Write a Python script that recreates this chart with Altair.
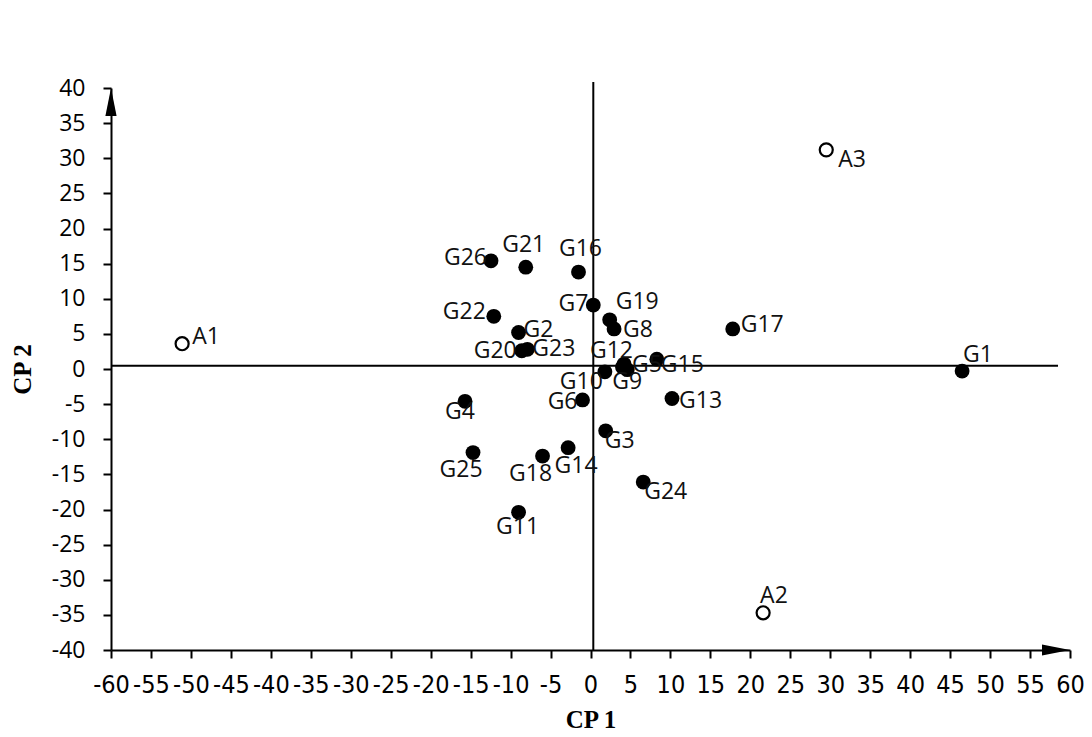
import altair as alt
import pandas as pd

# ---- data ----
names = ["A1", "A2", "A3", "G1", "G2", "G3", "G4", "G5", "G6", "G7", "G8", "G9", "G10",
         "G11", "G12", "G13", "G14", "G15", "G16", "G17", "G18", "G19", "G20", "G21",
         "G22", "G23", "G24", "G25", "G26"]
cp1 = [-51.1, 21.6, 29.5, 46.5, -9.0, 1.9, -15.7, 4.2, -1.0, 0.35, 2.95, 4.6, 1.8,
       -9.0, 4.0, 10.2, -2.8, 8.3, -1.5, 17.8, -6.0, 2.4, -8.6, -8.1,
       -12.1, -7.9, 6.6, -14.7, -12.45]
cp2 = [3.6, -34.7, 31.2, -0.3, 5.2, -8.8, -4.6, 0.7, -4.4, 9.1, 5.7, -0.1, -0.4,
       -20.4, 0.3, -4.2, -11.2, 1.4, 13.8, 5.7, -12.4, 7.0, 2.6, 14.5,
       7.5, 2.8, -16.1, -11.9, 15.4]
kind = ["A", "A", "A"] + ["G"] * 26

x_ticks = list(range(-60, 61, 5))
y_ticks = list(range(-40, 41, 5))

# ---- layout (label offsets in pixels: dx, dy, align) ----
label_offsets = {
    "A1": (10, -7, "left"), "A2": (-3, -17, "left"), "A3": (12, 10, "left"),
    "G1": (1, -16, "left"), "G2": (5, -2, "left"), "G3": (-1, 10, "left"),
    "G4": (-5, 11, "center"), "G5": (8, 1, "left"), "G6": (-5, 2, "right"),
    "G7": (-5, -1, "right"), "G8": (9, 1, "left"), "G9": (0, 12, "center"),
    "G10": (-2, 10, "right"), "G11": (-1, 15, "center"), "G12": (-11, -16, "center"),
    "G13": (7, 2, "left"), "G14": (8, 18, "center"), "G15": (4, 6, "left"),
    "G16": (2, -23, "center"), "G17": (8, -4, "left"), "G18": (-12, 18, "center"),
    "G19": (6, -18, "left"), "G20": (-5, 0, "right"), "G21": (-2, -22, "center"),
    "G22": (-8, -4, "right"), "G23": (5, 0, "left"), "G24": (1, 10, "left"),
    "G25": (-12, 17, "center"), "G26": (-4, -3, "right"),
}

W, H = 959, 562
XD, YD = [-60, 60], [-40, 40]
px_x = W / (XD[1] - XD[0])
px_y = H / (YD[1] - YD[0])

df = pd.DataFrame({"name": names, "cp1": cp1, "cp2": cp2, "kind": kind})
df["lx"] = [x + label_offsets[n][0] / px_x for n, x in zip(names, cp1)]
df["ly"] = [y - label_offsets[n][1] / px_y for n, y in zip(names, cp2)]
df["align"] = [label_offsets[n][2] for n in names]

xs = alt.Scale(domain=XD, nice=False, zero=False)
ys = alt.Scale(domain=YD, nice=False, zero=False)

x_axis = alt.Axis(values=x_ticks, title="CP 1", grid=False, domainColor="black",
                  domainWidth=2, tickColor="black", tickWidth=2, tickSize=8,
                  labelExpr="'' + datum.value",
                  labelFont="DejaVu Sans Condensed, DejaVu Sans", labelFontSize=25,
                  labelColor="black",
                  labelPadding=14, labelOverlap=False, labelFlush=False,
                  titleFont="Liberation Serif", titleFontSize=25, titleFontWeight="bold",
                  titleColor="black", titlePadding=10)
y_axis = alt.Axis(values=y_ticks, title="CP 2", grid=False, domainColor="black",
                  domainWidth=2, tickColor="black", tickWidth=2, tickSize=8,
                  labelExpr="'' + datum.value",
                  labelFont="Open Sans", labelFontSize=23, labelColor="black",
                  labelPadding=18, labelOverlap=False, labelFlush=False,
                  titleFont="Liberation Serif", titleFontSize=25, titleFontWeight="bold",
                  titleColor="black", titlePadding=16)


def X(field):
    return alt.X(field, scale=xs, axis=x_axis)


def Y(field):
    return alt.Y(field, scale=ys, axis=y_axis)


base = alt.Chart(df)

# reference cross lines
vline = pd.DataFrame({"x": [0.35], "y": [-40], "y2": [40.85]})
hline = pd.DataFrame({"y": [0.45], "x": [-60], "x2": [58.5]})
v_rule = alt.Chart(vline).mark_rule(color="black", strokeWidth=2, clip=False).encode(
    x=X("x:Q"), y=Y("y:Q"), y2="y2:Q")
h_rule = alt.Chart(hline).mark_rule(color="black", strokeWidth=2, clip=False).encode(
    y=Y("y:Q"), x=X("x:Q"), x2="x2:Q")

filled = base.transform_filter(alt.datum.kind == "G").mark_point(
    shape="circle", filled=True, color="black", size=220, opacity=1).encode(
    x=X("cp1:Q"), y=Y("cp2:Q"))
hollow = base.transform_filter(alt.datum.kind == "A").mark_point(
    shape="circle", filled=False, fill="white", fillOpacity=1, color="black",
    strokeWidth=2.2, size=170, opacity=1).encode(
    x=X("cp1:Q"), y=Y("cp2:Q"))

labels = []
for a in ["left", "center", "right"]:
    labels.append(
        base.transform_filter(alt.datum.align == a).mark_text(
            align=a, baseline="middle", font="Open Sans", fontSize=23, color="#111111").encode(
            x=X("lx:Q"), y=Y("ly:Q"), text="name:N"))

# axis arrowheads at the ends of the axes
arrow_up = pd.DataFrame({"x": [XD[0]], "y": [YD[1] - 14 / px_y]})
arrow_right = pd.DataFrame({"x": [XD[1] - 14 / px_x], "y": [YD[0]]})
up = alt.Chart(arrow_up).mark_point(shape="M0,-1L0.4,1L-0.4,1Z", filled=True, color="black",
                                    size=784, opacity=1, clip=False).encode(
    x=X("x:Q"), y=Y("y:Q"))
right = alt.Chart(arrow_right).mark_point(shape="M1,0L-1,0.4L-1,-0.4Z", filled=True, color="black",
                                          size=784, opacity=1, clip=False).encode(
    x=X("x:Q"), y=Y("y:Q"))

chart = alt.layer(v_rule, h_rule, filled, hollow, *labels, up, right).properties(
    width=W, height=H,
    autosize=alt.AutoSizeParams(type="none"),
    padding={"left": 111, "top": 88, "right": 22, "bottom": 87},
    background="white",
).configure_view(stroke=None)

chart.save("out.html", embed_options={"renderer": "svg", "actions": False})
